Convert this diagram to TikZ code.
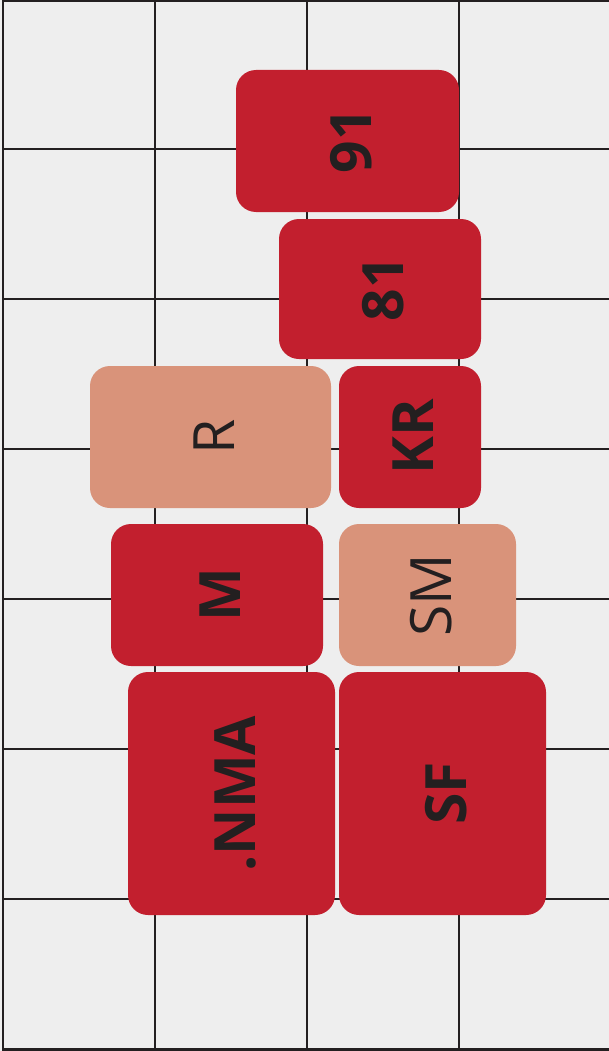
\documentclass[tikz,border=0pt]{standalone}
\usepackage{fontspec}
\setmainfont{Open Sans}
\usepackage{tikz}
\usetikzlibrary{positioning}
\definecolor{gridbg}{RGB}{238, 238, 238}
\definecolor{gridline}{RGB}{35, 31, 32}
\definecolor{redtile}{RGB}{194, 31, 46}
\definecolor{peachtile}{RGB}{217, 147, 122}
\definecolor{tiletext}{RGB}{35, 31, 32}

\tikzset{
  tile/.style={rotate=90, rounded corners=20pt, inner sep=0pt, text=tiletext,
               text height=47pt, text depth=0pt,
               font=\fontsize{57}{60}\selectfont},
  redtile/.style={tile, fill=redtile, font=\fontsize{57}{60}\selectfont\bfseries},
  peachtile/.style={tile, fill=peachtile},
}

\begin{document}
\begin{tikzpicture}[x=1pt, y=-1pt]

% Background
\fill[gridbg] (0,0) rectangle (609,1051);
\useasboundingbox (0,0) rectangle (609,1051);

% Grid lines
\foreach \gx in {3,155,307,459} {
    \draw[gridline, line width=2.8pt] (\gx,0) -- (\gx,1051);
}
\foreach \gy in {0.5,149,299,449,599,749,899,1049.5} {
    \draw[gridline, line width=2.8pt] (3,\gy) -- (609,\gy);
}

% Tiles (width along page y, height along page x, since rotated)
\node[redtile, minimum width=142pt, minimum height=223pt] (t91) at (347.5,141) {91};
\node[redtile, minimum width=140pt, minimum height=202pt] (t81) at (380,289) {81};
\node[peachtile, minimum width=142pt, minimum height=241pt] (tR) at (210.5,437) {R};
\node[redtile, minimum width=142pt, minimum height=142pt] (tKR) at (410,437) {KR};
\node[redtile, minimum width=142pt, minimum height=212pt] (tM) at (217,595) {M};
\node[peachtile, minimum width=142pt, minimum height=177pt] (tSM) at (427.5,595) {SM};
\node[redtile, minimum width=243pt, minimum height=207pt] (tNMA) at (231.5,793.5) {.NMA};
\node[redtile, minimum width=243pt, minimum height=207pt] (tSF) at (442.5,793.5) {SF};

\end{tikzpicture}
\end{document}
